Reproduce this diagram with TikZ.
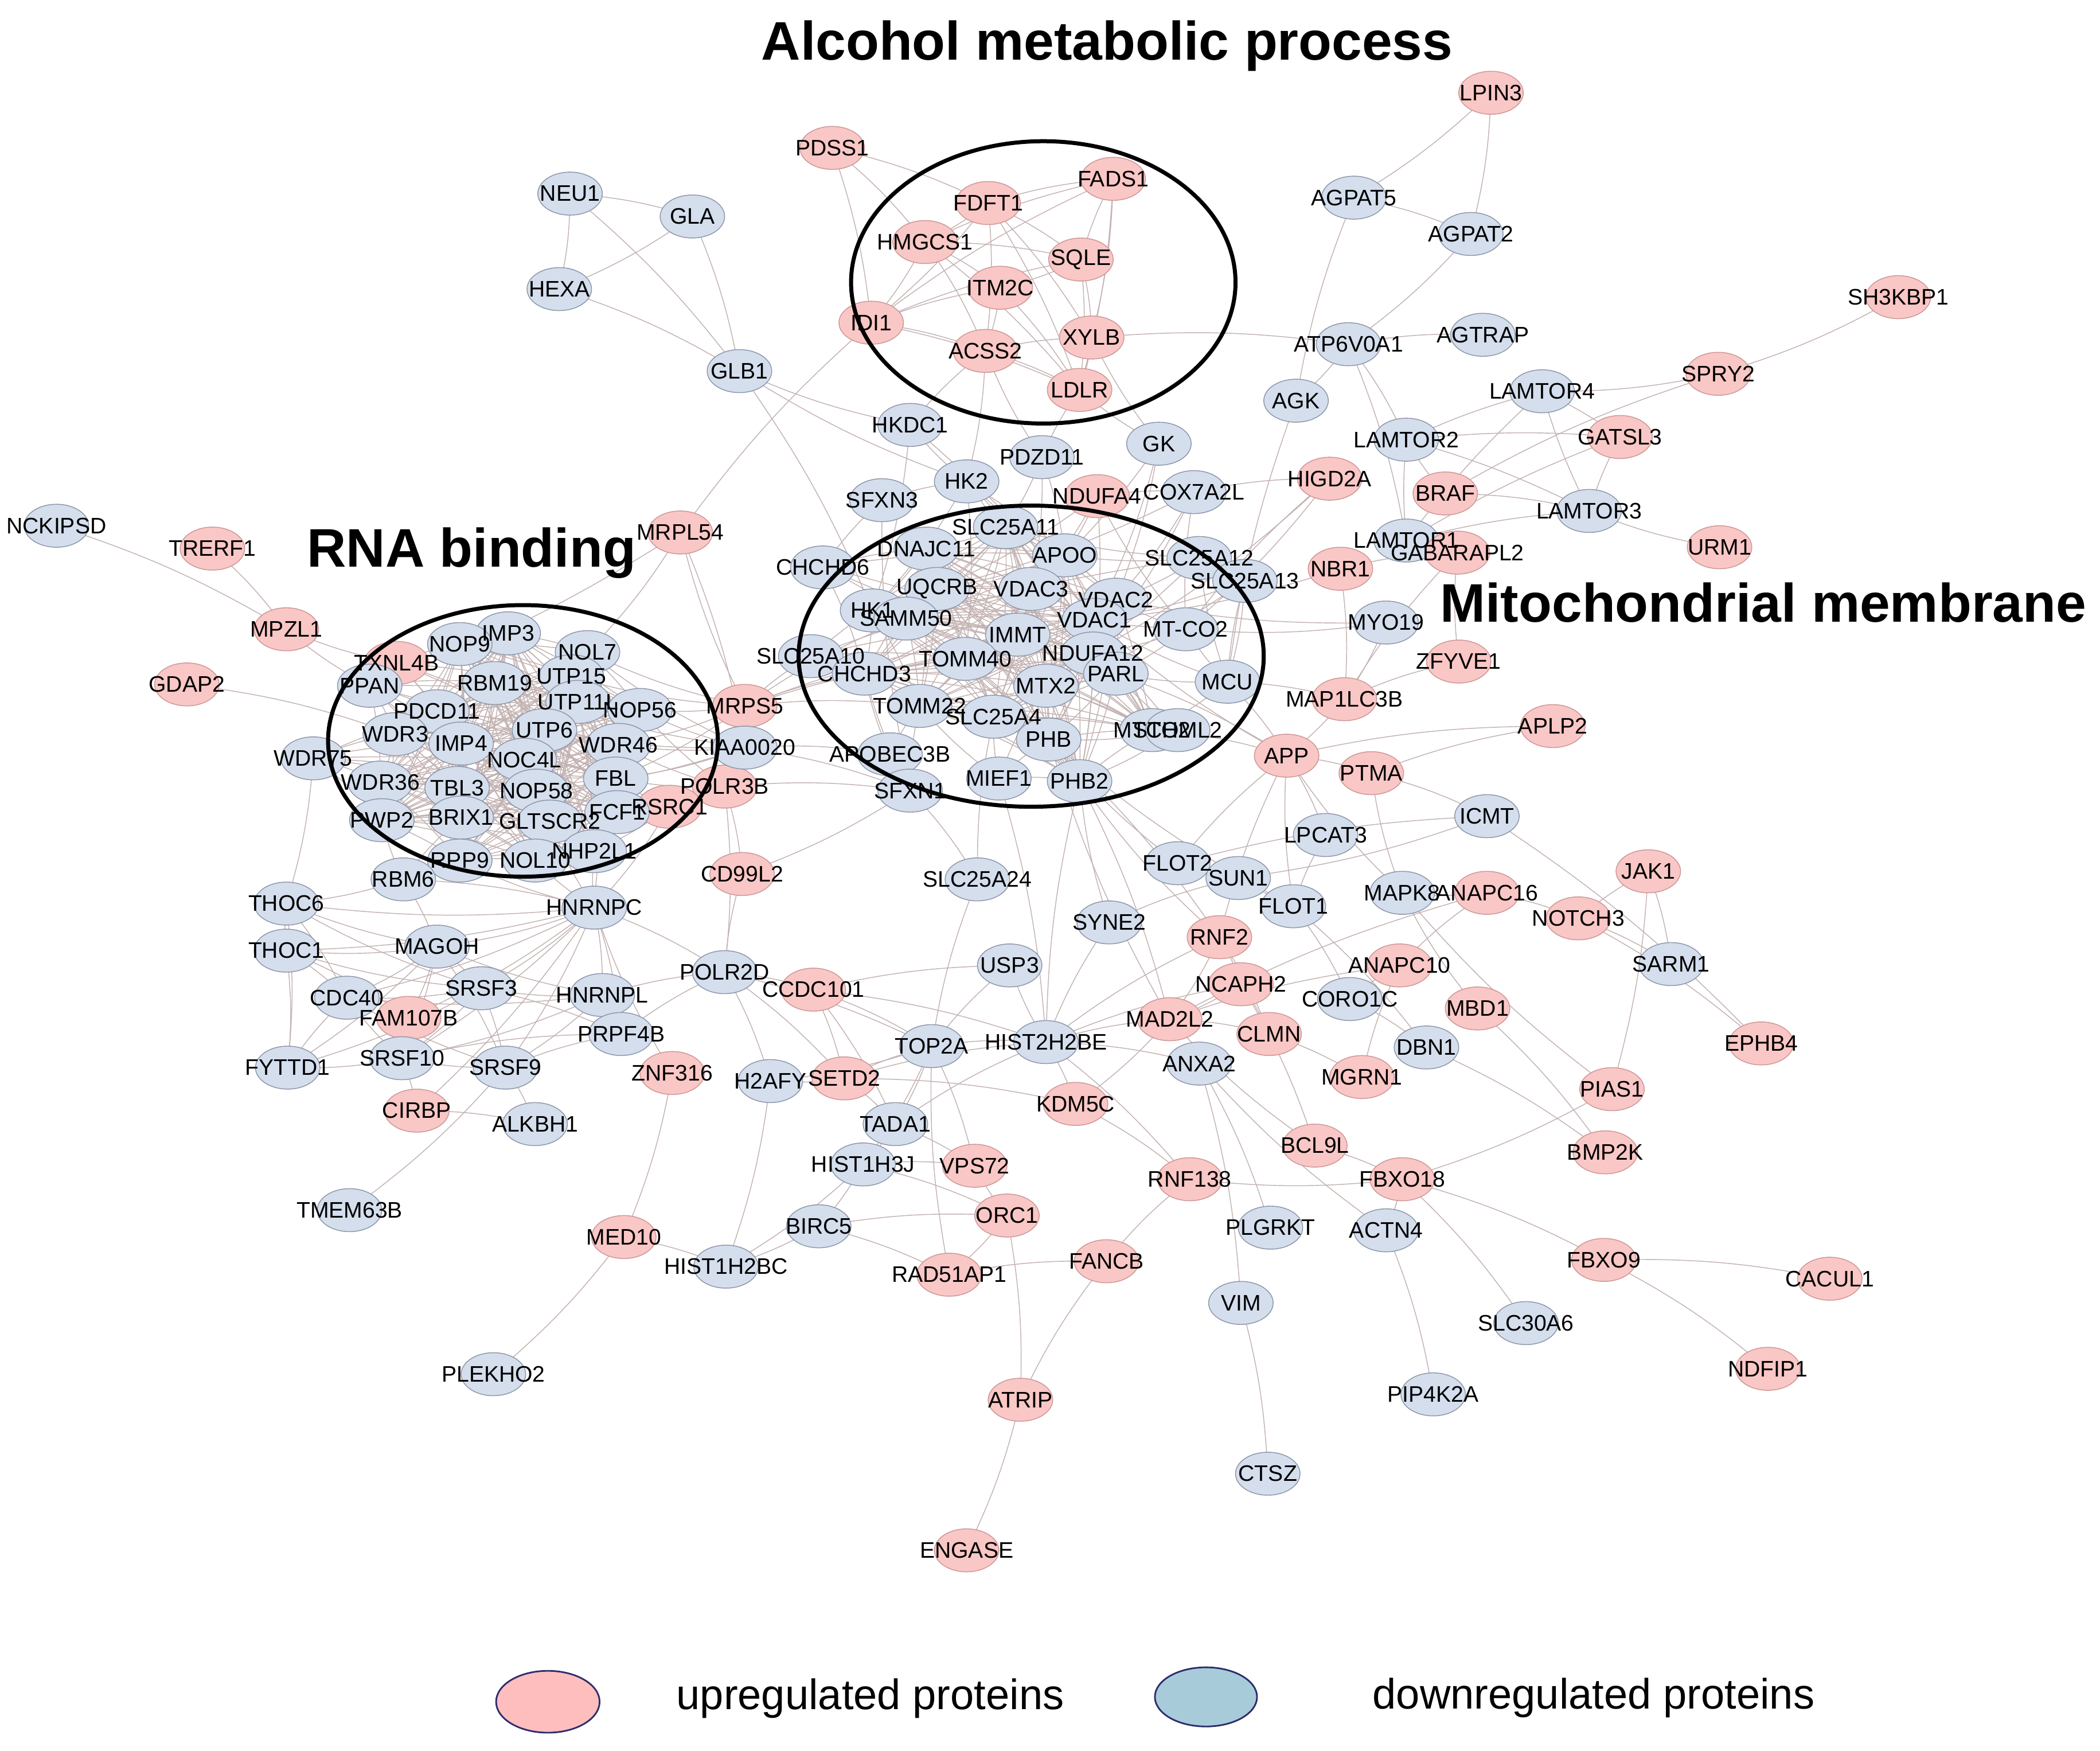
\documentclass[tikz,border=0pt]{standalone}
\usepackage{fontspec}
\setmainfont{Liberation Sans}
\usetikzlibrary{shapes.geometric}
\pgfdeclarelayer{back}\pgfdeclarelayer{bg}\pgfdeclarelayer{fg}\pgfsetlayers{back,bg,main,fg}
\definecolor{upf}{RGB}{249,199,197}
\definecolor{upd}{RGB}{205,150,150}
\definecolor{dnf}{RGB}{212,222,237}
\definecolor{dnd}{RGB}{140,150,168}
\definecolor{edgec}{RGB}{196,178,178}
\definecolor{legup}{RGB}{255,190,190}
\definecolor{legdn}{RGB}{168,203,218}
\definecolor{navy}{RGB}{45,45,110}
\tikzset{
 gnode/.style={ellipse, minimum width=0.96cm, minimum height=0.64cm, inner sep=0pt, line width=0.35pt},
 upn/.style={gnode, fill=upf, draw=upd},
 dnn/.style={gnode, fill=dnf, draw=dnd},
 lab/.style={inner sep=0pt, font=\fontsize{9.5}{10}\selectfont, text=black},
 edge/.style={draw=edgec, line width=0.35pt},
 ring/.style={draw=black, line width=1.7pt},
 ttl/.style={font=\bfseries\fontsize{23}{27}\selectfont, inner sep=0pt, anchor=base west},
 legt/.style={font=\fontsize{18}{21}\selectfont, inner sep=0pt, anchor=base west},
 legn/.style={ellipse, inner sep=0pt, draw=navy, line width=0.7pt},
}
\newcommand\UpNode[3]{\node[upn] (#1) at (#2,#3) {};\begin{pgfonlayer}{fg}\node[lab] at (#1.center) {#1};\end{pgfonlayer}}
\newcommand\DnNode[3]{\node[dnn] (#1) at (#2,#3) {};\begin{pgfonlayer}{fg}\node[lab] at (#1.center) {#1};\end{pgfonlayer}}
\newcommand\DnNodeL[4]{\node[dnn] (#1) at (#2,#3) {};\begin{pgfonlayer}{fg}\node[lab] at (#1.center) {#4};\end{pgfonlayer}}
\newcommand\Edges[1]{\foreach \a/\b in {#1}{\draw[edge] (\a.center) to[bend left=6] (\b.center);}}
\newcommand\Clique[1]{\foreach \a [count=\i] in {#1}{\foreach \b [count=\j] in {#1}{\ifnum\i<\j \draw[edge] (\a.center) to[bend left=5] (\b.center);\fi}}}
\newcommand\Star[2]{\foreach \b in {#2}{\draw[edge] (#1.center) to[bend left=6] (\b.center);}}
\begin{document}
\begin{tikzpicture}[x=0.02cm, y=-0.02cm]
\begin{pgfonlayer}{back}
\fill[white] (0,0) rectangle (1562,1302.2);
\end{pgfonlayer}
\useasboundingbox (0,0) rectangle (1562,1302.2);
% ---------- upregulated ----------
\UpNode{LPIN3}{1109}{69}
\UpNode{PDSS1}{619}{110}
\UpNode{FADS1}{828}{133}
\UpNode{FDFT1}{735}{151}
\UpNode{HMGCS1}{688}{180}
\UpNode{SQLE}{804}{193}
\UpNode{ITM2C}{744}{214}
\UpNode{IDI1}{648}{240}
\UpNode{ACSS2}{733}{261}
\UpNode{XYLB}{812}{251}
\UpNode{LDLR}{803}{290}
\UpNode{SH3KBP1}{1412}{221}
\UpNode{SPRY2}{1278}{278}
\UpNode{GATSL3}{1205}{325}
\UpNode{HIGD2A}{989}{356}
\UpNode{BRAF}{1075}{367}
\UpNode{NDUFA4}{816}{369}
\UpNode{URM1}{1279}{407}
\UpNode{TRERF1}{158}{408}
\UpNode{MRPL54}{506}{396}
\UpNode{MPZL1}{213}{468}
\UpNode{TXNL4B}{295}{493}
\UpNode{GDAP2}{139}{509}
\UpNode{ZFYVE1}{1085}{492}
\UpNode{MAP1LC3B}{1000}{520}
\UpNode{MRPS5}{554}{525}
\UpNode{APLP2}{1155}{540}
\UpNode{APP}{957}{562}
\UpNode{PTMA}{1020}{575}
\UpNode{POLR3B}{539}{585}
\UpNode{RSRC1}{498}{600}
\UpNode{CD99L2}{552}{650}
\UpNode{JAK1}{1226}{648}
\UpNode{ANAPC16}{1106}{664}
\UpNode{NOTCH3}{1174}{683}
\UpNode{RNF2}{907}{697}
\UpNode{ANAPC10}{1041}{718}
\UpNode{NCAPH2}{923}{732}
\UpNode{CCDC101}{605}{736}
\UpNode{MBD1}{1099}{750}
\UpNode{FAM107B}{304}{757}
\UpNode{MAD2L2}{870}{758}
\UpNode{CLMN}{944}{769}
\UpNode{EPHB4}{1310}{776}
\UpNode{ZNF316}{500}{798}
\UpNode{SETD2}{628}{802}
\UpNode{MGRN1}{1013}{801}
\UpNode{PIAS1}{1199}{810}
\UpNode{KDM5C}{800}{821}
\UpNode{CIRBP}{310}{826}
\UpNode{BCL9L}{978}{852}
\UpNode{BMP2K}{1194}{857}
\UpNode{VPS72}{725}{867}
\UpNode{RNF138}{885}{877}
\UpNode{FBXO18}{1043}{877}
\UpNode{ORC1}{749}{904}
\UpNode{MED10}{464}{920}
\UpNode{FANCB}{823}{938}
\UpNode{FBXO9}{1193}{937}
\UpNode{RAD51AP1}{706}{948}
\UpNode{CACUL1}{1361}{951}
\UpNode{NDFIP1}{1315}{1018}
\UpNode{ATRIP}{759}{1041}
\UpNode{ENGASE}{719}{1153}
% ---------- downregulated ----------
\DnNode{NEU1}{424}{144}
\DnNode{GLA}{515}{161}
\DnNode{AGPAT5}{1007}{147}
\DnNode{AGPAT2}{1094}{174}
\DnNode{HEXA}{416}{215}
\DnNode{AGTRAP}{1103}{249}
\DnNode{ATP6V0A1}{1003}{256}
\DnNode{GLB1}{550}{276}
\DnNode{LAMTOR4}{1147}{291}
\DnNode{AGK}{964}{298}
\DnNode{HKDC1}{677}{316}
\DnNode{LAMTOR2}{1046}{327}
\DnNode{GK}{862}{330}
\DnNode{PDZD11}{775}{340}
\DnNode{HK2}{719}{358}
\DnNode{COX7A2L}{888}{366}
\DnNode{SFXN3}{656}{372}
\DnNode{LAMTOR3}{1182}{380}
\DnNode{SLC25A11}{748}{392}
\DnNode{NCKIPSD}{42}{391}
\DnNode{LAMTOR1}{1046}{402}
\UpNode{GABARAPL2}{1084}{411}
\UpNode{NBR1}{997}{423}
\DnNode{DNAJC11}{689}{408}
\DnNode{APOO}{792}{413}
\DnNode{SLC25A12}{892}{415}
\DnNode{CHCHD6}{612}{422}
\DnNode{SLC25A13}{926}{432}
\DnNode{UQCRB}{697}{438}
\DnNode{VDAC3}{767}{438}
\DnNode{VDAC2}{830}{446}
\DnNode{HK1}{649}{454}
\DnNode{SAMM50}{674}{460}
\DnNode{VDAC1}{814}{461}
\DnNode{MYO19}{1031}{463}
\DnNode{IMP3}{378}{471}
\DnNode{NOP9}{342}{479}
\DnNodeL{MTCO2}{882}{468}{MT-CO2}
\DnNode{IMMT}{757}{472}
\DnNode{NOL7}{437}{485}
\DnNode{SLC25A10}{603}{488}
\DnNode{TOMM40}{718}{490}
\DnNode{NDUFA12}{813}{486}
\DnNode{CHCHD3}{643}{501}
\DnNode{UTP15}{425}{503}
\DnNode{PARL}{830}{501}
\DnNode{MCU}{913}{507}
\DnNode{PPAN}{275}{510}
\DnNode{RBM19}{368}{508}
\DnNode{MTX2}{778}{510}
\DnNode{UTP11L}{430}{522}
\DnNode{NOP56}{476}{528}
\DnNode{TOMM22}{684}{525}
\DnNode{PDCD11}{325}{529}
\DnNode{SLC25A4}{739}{533}
\DnNode{UTP6}{405}{543}
\DnNode{MTCH2}{857}{543}
\DnNode{STOML2}{876}{543}
\DnNode{WDR3}{294}{546}
\DnNode{IMP4}{343}{553}
\DnNode{PHB}{780}{550}
\DnNode{WDR46}{460}{554}
\DnNode{KIAA0020}{554}{556}
\DnNode{APOBEC3B}{662}{561}
\DnNode{WDR75}{233}{564}
\DnNode{NOC4L}{390}{565}
\DnNode{FBL}{458}{579}
\DnNode{MIEF1}{743}{579}
\DnNode{PHB2}{803}{581}
\DnNode{WDR36}{283}{582}
\DnNode{TBL3}{340}{586}
\DnNode{NOP58}{399}{588}
\DnNode{SFXN1}{677}{588}
\DnNode{FCF1}{459}{604}
\DnNode{BRIX1}{343}{608}
\DnNode{PWP2}{284}{610}
\DnNode{GLTSCR2}{409}{611}
\DnNode{ICMT}{1106}{607}
\DnNode{LPCAT3}{986}{621}
\DnNode{NHP2L1}{442}{633}
\DnNode{RPP9}{342}{640}
\DnNode{NOL10}{398}{640}
\DnNode{FLOT2}{876}{642}
\DnNode{SUN1}{921}{653}
\DnNode{RBM6}{300}{654}
\DnNode{SLC25A24}{727}{654}
\DnNode{MAPK8}{1043}{664}
\DnNode{THOC6}{213}{672}
\DnNode{FLOT1}{962}{674}
\DnNode{HNRNPC}{442}{675}
\DnNode{SYNE2}{825}{686}
\DnNode{MAGOH}{325}{704}
\DnNode{THOC1}{213}{707}
\DnNode{SARM1}{1243}{717}
\DnNode{USP3}{751}{718}
\DnNode{POLR2D}{539}{723}
\DnNode{SRSF3}{358}{735}
\DnNode{HNRNPL}{448}{740}
\DnNode{CDC40}{258}{742}
\DnNode{CORO1C}{1004}{743}
\DnNode{PRPF4B}{462}{769}
\DnNode{HIST2H2BE}{778}{775}
\DnNode{TOP2A}{693}{778}
\DnNode{DBN1}{1061}{779}
\DnNode{SRSF10}{299}{787}
\DnNode{FYTTD1}{214}{794}
\DnNode{SRSF9}{376}{794}
\DnNode{ANXA2}{892}{791}
\DnNode{H2AFY}{573}{804}
\DnNode{ALKBH1}{398}{836}
\DnNode{TADA1}{666}{836}
\DnNode{HIST1H3J}{642}{866}
\DnNode{TMEM63B}{260}{900}
\DnNode{BIRC5}{609}{912}
\DnNode{PLGRKT}{945}{913}
\DnNode{ACTN4}{1031}{915}
\DnNode{HIST1H2BC}{540}{942}
\DnNode{VIM}{923}{969}
\DnNode{SLC30A6}{1135}{984}
\DnNode{PLEKHO2}{367}{1022}
\DnNode{PIP4K2A}{1066}{1037}
\DnNode{CTSZ}{943}{1096}
% ---------- rings and titles ----------
\begin{pgfonlayer}{fg}
\draw[ring] (776,210) ellipse [x radius=2.86cm, y radius=2.10cm];
\draw[ring] (389,551) ellipse [x radius=2.90cm, y radius=2.02cm];
\draw[ring] (767,488) ellipse [x radius=3.46cm, y radius=2.24cm];
\end{pgfonlayer}
\node[ttl] (t1) at (566,44.5) {Alcohol metabolic process};
\node[ttl] (t2) at (228,421.8) {RNA binding};
\node[ttl] (t3) at (1071,462.6) {Mitochondrial membrane};
% ---------- legend ----------
\node[legn, fill=legup, minimum width=1.54cm, minimum height=0.92cm] (legU) at (407.5,1265.6) {};
\node[legt] (legUt) at (502.8,1271.4) {upregulated proteins};
\node[legn, fill=legdn, minimum width=1.52cm, minimum height=0.88cm] (legD) at (897,1262) {};
\node[legt] (legDt) at (1020.6,1270.8) {downregulated proteins};
% ---------- edges ----------
\begin{pgfonlayer}{bg}
\Clique{NOP9,IMP3,NOL7,UTP15,RBM19,PDCD11,UTP11L,NOP56,WDR3,IMP4,UTP6,WDR46,NOC4L,WDR36,TBL3,NOP58,FBL,BRIX1,PWP2,GLTSCR2,FCF1,RPP9,NOL10,NHP2L1}
\Star{PPAN}{NOP9,RBM19,PDCD11,WDR3,IMP4,WDR36,TBL3,FBL,NOP56,NOL10,MPZL1}
\Star{TXNL4B}{NOP9,PDCD11,IMP4,FBL,NOP56,UTP6,MPZL1,PPAN}
\Star{WDR75}{WDR3,WDR36,PWP2,UTP15,IMP4,TBL3,NOP58,FBL,THOC6}
\Star{KIAA0020}{NOP56,WDR46,FBL,UTP6,NOL7,RBM19,NOP58,POLR3B,APOBEC3B,SFXN1}
\Star{MRPS5}{NOP56,NOL7,UTP15,WDR46,FBL,TOMM22,CHCHD3,SLC25A10,IMMT,TOMM40,MRPL54,SAMM50}
\Star{RSRC1}{FBL,NHP2L1,NOP58,GLTSCR2,FCF1,HNRNPC}
\Star{POLR3B}{NOP56,FBL,WDR46,POLR2D,CD99L2,SFXN1}
\Star{RBM6}{RPP9,BRIX1,PWP2,HNRNPC,THOC6,MAGOH}
\Edges{TRERF1/MPZL1,NCKIPSD/MPZL1,GDAP2/WDR3,MRPL54/NOL7,MRPL54/KIAA0020,MRPL54/IDI1,MRPL54/PPAN}
\Clique{SLC25A11,DNAJC11,APOO,UQCRB,VDAC3,VDAC2,HK1,SAMM50,VDAC1,IMMT,TOMM40,NDUFA12,CHCHD3,PARL,MTX2,TOMM22,SLC25A4,PHB,PHB2,MTCH2}
\Star{CHCHD6}{CHCHD3,IMMT,SAMM50,APOO,DNAJC11,MTX2,SFXN3}
\Star{SLC25A10}{SLC25A11,SLC25A4,VDAC1,TOMM40,CHCHD3,SLC25A12}
\Star{MCU}{MTCO2,VDAC1,PARL,MTCH2,SLC25A12,SLC25A13,AGK,APP,MAP1LC3B}
\Star{MTCO2}{NDUFA12,UQCRB,VDAC2,PARL,NDUFA4,COX7A2L,HIGD2A}
\Star{SLC25A12}{SLC25A13,SLC25A11,VDAC2,APOO,SLC25A4}
\Star{SLC25A13}{VDAC1,SLC25A4,MCU}
\Star{STOML2}{MTCH2,PARL,VDAC1,PHB,PHB2}
\Star{APOBEC3B}{TOMM22,CHCHD3,SFXN1}
\Star{MIEF1}{PHB,PHB2,TOMM22,MTX2,SLC25A4,HIST2H2BE}
\Star{SFXN1}{SFXN3,TOMM22,CHCHD3,SLC25A24,CD99L2}
\Star{HK2}{HK1,VDAC1,VDAC2,VDAC3,HKDC1,GLB1,SLC25A11,TOMM40}
\Star{HKDC1}{HK1,GLB1,VDAC1,ACSS2}
\Star{PDZD11}{SLC25A11,APOO,VDAC3,LDLR,ACSS2}
\Star{NDUFA4}{UQCRB,NDUFA12,COX7A2L,VDAC3,APOO}
\Star{COX7A2L}{UQCRB,VDAC2,NDUFA12,HIGD2A}
\Star{GK}{VDAC1,VDAC2,VDAC3,XYLB,LDLR}
\Edges{SFXN3/HK2,NBR1/MAP1LC3B,NBR1/GABARAPL2,MYO19/MAP1LC3B,MYO19/MTCO2,MAP1LC3B/GABARAPL2,MAP1LC3B/ZFYVE1,ZFYVE1/GABARAPL2,MAP1LC3B/APP,NBR1/VDAC1,HIGD2A/NDUFA12,MYO19/VDAC2}
\Clique{LAMTOR1,LAMTOR2,LAMTOR3,LAMTOR4,GATSL3}
\Edges{BRAF/LAMTOR3,BRAF/SPRY2,BRAF/LAMTOR2,URM1/LAMTOR3,ATP6V0A1/LAMTOR2,ATP6V0A1/LAMTOR1,ATP6V0A1/AGK,ATP6V0A1/AGTRAP,AGPAT2/ATP6V0A1,AGK/AGPAT5,HIGD2A/MTCO2,SH3KBP1/SPRY2,LPIN3/AGPAT5,LPIN3/AGPAT2,AGPAT5/AGPAT2,GABARAPL2/LAMTOR1,SPRY2/LAMTOR4}
\Edges{PDSS1/FDFT1,PDSS1/HMGCS1,PDSS1/IDI1,FDFT1/HMGCS1,FDFT1/FADS1,FDFT1/SQLE,FDFT1/IDI1,FDFT1/ACSS2,FDFT1/LDLR,FDFT1/XYLB,HMGCS1/IDI1,HMGCS1/SQLE,HMGCS1/ACSS2,HMGCS1/LDLR,HMGCS1/FADS1,HMGCS1/ITM2C,IDI1/ITM2C,IDI1/ACSS2,IDI1/SQLE,IDI1/FADS1,IDI1/LDLR,SQLE/FADS1,SQLE/LDLR,SQLE/XYLB,SQLE/ITM2C,FADS1/XYLB,FADS1/LDLR,ITM2C/ACSS2,ITM2C/LDLR,ACSS2/LDLR,ACSS2/XYLB,XYLB/ATP6V0A1,XYLB/LDLR,ACSS2/HK2}
\Edges{NEU1/GLA,NEU1/HEXA,NEU1/GLB1,GLA/HEXA,GLA/GLB1,HEXA/GLB1,GLB1/HK1}
\Star{HNRNPC}{HNRNPL,SRSF3,SRSF9,SRSF10,MAGOH,PRPF4B,CDC40,FAM107B,THOC1,THOC6,POLR2D,NHP2L1,NOL10,FBL,GLTSCR2,CIRBP,RPP9}
\Star{HNRNPL}{SRSF3,SRSF9,SRSF10,PRPF4B,MAGOH,CDC40,POLR2D}
\Star{MAGOH}{THOC1,THOC6,CDC40,SRSF3,SRSF9,SRSF10,FYTTD1,FAM107B}
\Star{SRSF3}{SRSF9,SRSF10,CDC40,THOC1,THOC6,FYTTD1,PRPF4B}
\Star{SRSF9}{SRSF10,CDC40,PRPF4B,ALKBH1,TMEM63B}
\Star{SRSF10}{CDC40,CIRBP,FYTTD1,PRPF4B}
\Star{THOC1}{THOC6,FYTTD1,CDC40,FAM107B}
\Edges{THOC6/FYTTD1,THOC6/CDC40,FYTTD1/CDC40,CIRBP/ALKBH1,PRPF4B/POLR2D,ZNF316/MED10,ZNF316/HNRNPC}
\Star{POLR2D}{CD99L2,CCDC101,SETD2,TOP2A,H2AFY}
\Star{CCDC101}{SETD2,TADA1,TOP2A,HIST2H2BE,USP3}
\Star{SETD2}{H2AFY,TOP2A,HIST2H2BE,TADA1,KDM5C}
\Star{TOP2A}{TADA1,HIST2H2BE,USP3,HIST1H3J,SLC25A24,VPS72,H2AFY}
\Edges{TADA1/HIST1H3J,TADA1/VPS72,TADA1/HIST2H2BE,HIST1H3J/HIST1H2BC,HIST1H3J/BIRC5,HIST1H3J/ORC1,HIST1H3J/VPS72,BIRC5/HIST1H2BC,BIRC5/ORC1,BIRC5/RAD51AP1,MED10/HIST1H2BC,MED10/PLEKHO2,H2AFY/HIST1H2BC,ORC1/VPS72,ORC1/RAD51AP1,ORC1/ATRIP,RAD51AP1/FANCB,RAD51AP1/TOP2A,ATRIP/FANCB,ATRIP/ENGASE,FANCB/RNF138}
\Star{HIST2H2BE}{USP3,MAD2L2,RNF2,KDM5C,NCAPH2,ANXA2,RNF138,SYNE2,PHB2}
\Edges{SLC25A24/SLC25A4,SYNE2/SUN1,SYNE2/PHB2,FLOT2/FLOT1,FLOT2/SUN1,FLOT2/APP,FLOT2/ICMT,FLOT2/PHB,FLOT1/CORO1C,FLOT1/APP,FLOT1/LPCAT3,FLOT1/DBN1,FLOT1/PHB,PHB2/MAD2L2,PHB/RNF2,MTCH2/APP,PARL/APP}
\Edges{RNF2/NCAPH2,RNF2/MAD2L2,RNF2/CLMN,RNF2/APP,RNF2/PHB2,NCAPH2/MAD2L2,NCAPH2/CLMN,NCAPH2/BCL9L,MAD2L2/ANAPC10,MAD2L2/ANAPC16,MAD2L2/KDM5C,MAD2L2/CLMN,MAD2L2/PHB,CLMN/MGRN1,CORO1C/DBN1,CORO1C/ANAPC10,ANAPC10/ANAPC16,ANAPC16/MAPK8,ANAPC16/NOTCH3,MAPK8/APP,MAPK8/PTMA,APP/PTMA,APP/LPCAT3,APP/APLP2,APP/VDAC1,PTMA/APLP2,PTMA/ICMT,ICMT/SUN1,ICMT/EPHB4}
\Edges{NOTCH3/JAK1,NOTCH3/SARM1,NOTCH3/EPHB4,JAK1/PIAS1,JAK1/SARM1,PIAS1/FBXO18,PIAS1/MAPK8,DBN1/BMP2K,MBD1/BMP2K,MBD1/MAPK8,BCL9L/FBXO18,BCL9L/MAD2L2,FBXO18/RNF138,FBXO18/FBXO9,FBXO18/SLC30A6,FBXO18/ACTN4,FBXO9/CACUL1,FBXO9/NDFIP1,ACTN4/PIP4K2A,ACTN4/ANXA2,ANXA2/VIM,ANXA2/PLGRKT,VIM/CTSZ,KDM5C/RNF138,MGRN1/ANAPC10}
\end{pgfonlayer}
\end{tikzpicture}
\end{document}
